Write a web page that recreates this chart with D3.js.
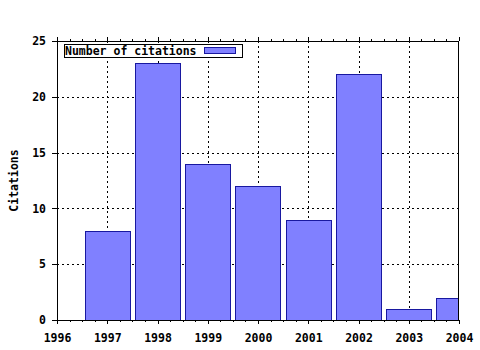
<!DOCTYPE html>
<html>
<head>
<meta charset="utf-8">
<script src="https://cdn.jsdelivr.net/npm/d3@7"></script>
<style>
html,body{margin:0;padding:0;background:#fff;}
svg{display:block;}
text{font-family:"DejaVu Sans Mono",monospace;font-weight:bold;font-size:11.5px;fill:#000;}
</style>
</head>
<body>
<script>
const years = [1997, 1998, 1999, 2000, 2001, 2002, 2003, 2004];
const citations = [8, 23, 14, 12, 9, 22, 1, 2];
const xTicks = [1996, 1997, 1998, 1999, 2000, 2001, 2002, 2003, 2004];
const yTicks = [0, 5, 10, 15, 20, 25];
const yLabel = "Citations";
const legendLabel = "Number of citations";

const W = 480, H = 350;
const m = {left: 57, right: 21, top: 41, bottom: 30};

const svg = d3.select("body").append("svg").attr("width", W).attr("height", H);

const x = d3.scaleLinear().domain([1996, 2004]).range([m.left, W - m.right]);
const y = d3.scaleLinear().domain([0, 25]).range([H - m.bottom, m.top]);

svg.append("defs").append("clipPath").attr("id", "clip")
  .append("rect").attr("x", m.left).attr("y", m.top)
  .attr("width", W - m.left - m.right).attr("height", H - m.top - m.bottom);

// grid
const grid = svg.append("g").attr("shape-rendering", "crispEdges");
grid.selectAll("line.gx").data(xTicks.slice(1, -1)).join("line")
  .attr("x1", d => Math.round(x(d)) + 0.5).attr("x2", d => Math.round(x(d)) + 0.5)
  .attr("y1", m.top).attr("y2", H - m.bottom)
  .attr("stroke", "#000").attr("stroke-width", 1).attr("stroke-dasharray", "2,3");
grid.selectAll("line.gy").data(yTicks.slice(1, -1)).join("line")
  .attr("y1", d => Math.round(y(d)) + 0.5).attr("y2", d => Math.round(y(d)) + 0.5)
  .attr("x1", m.left).attr("x2", W - m.right)
  .attr("stroke", "#000").attr("stroke-width", 1).attr("stroke-dasharray", "2,3");

// bars
const bw = (x(1997) - x(1996)) * 0.9;
svg.append("g").attr("clip-path", "url(#clip)").attr("shape-rendering", "crispEdges")
  .selectAll("rect").data(years).join("rect")
  .attr("x", (d) => Math.round(x(d) - bw / 2) + 0.5)
  .attr("y", (d, i) => Math.round(y(citations[i])) + 0.5)
  .attr("width", Math.round(bw))
  .attr("height", (d, i) => Math.round(y(0)) - Math.round(y(citations[i])))
  .attr("fill", "#8080ff").attr("stroke", "#1818a0").attr("stroke-width", 1);

// axes
const minor = d3.range(1996, 2004.001, 0.25).filter(v => Math.abs(v - Math.round(v)) > 1e-6);

const xb = d3.axisBottom(x).tickValues(xTicks).tickFormat(d3.format("d")).tickSize(4).tickPadding(10);
svg.append("g").attr("transform", `translate(0,${H - m.bottom})`).call(xb);
const xt = d3.axisTop(x).tickValues(xTicks).tickFormat("").tickSize(4);
svg.append("g").attr("transform", `translate(0,${m.top})`).call(xt);
const xbm = d3.axisBottom(x).tickValues(minor).tickFormat("").tickSize(2);
svg.append("g").attr("transform", `translate(0,${H - m.bottom})`).call(xbm);
const xtm = d3.axisTop(x).tickValues(minor).tickFormat("").tickSize(2);
svg.append("g").attr("transform", `translate(0,${m.top})`).call(xtm);

const yl = d3.axisLeft(y).tickValues(yTicks).tickFormat(d3.format("d")).tickSize(5).tickPadding(6);
svg.append("g").attr("transform", `translate(${m.left},0)`).call(yl);

svg.selectAll(".domain").attr("stroke", "none");
svg.selectAll(".tick line").attr("stroke", "#000").attr("shape-rendering", "crispEdges");
svg.selectAll(".tick text").style("font-family", "'DejaVu Sans Mono',monospace")
  .style("font-weight", "bold").style("font-size", "11.5px").attr("fill", "#000");

// border
svg.append("rect").attr("x", m.left + 0.5).attr("y", m.top + 0.5)
  .attr("width", W - m.left - m.right - 1).attr("height", H - m.top - m.bottom)
  .attr("fill", "none").attr("stroke", "#000").attr("stroke-width", 1)
  .attr("shape-rendering", "crispEdges");

// y label
svg.append("text").attr("transform", `translate(18,${(m.top + H - m.bottom) / 2}) rotate(-90)`)
  .attr("text-anchor", "middle").text(yLabel);

// legend
const lg = svg.append("g").attr("shape-rendering", "crispEdges");
lg.append("rect").attr("x", 64.5).attr("y", 44.5).attr("width", 178).attr("height", 13)
  .attr("fill", "#fff").attr("stroke", "#000");
lg.append("text").attr("x", 65).attr("y", 55).text(legendLabel);
lg.append("rect").attr("x", 204.5).attr("y", 47.5).attr("width", 31).attr("height", 6)
  .attr("fill", "#8080ff").attr("stroke", "#1818a0");
</script>
</body>
</html>
